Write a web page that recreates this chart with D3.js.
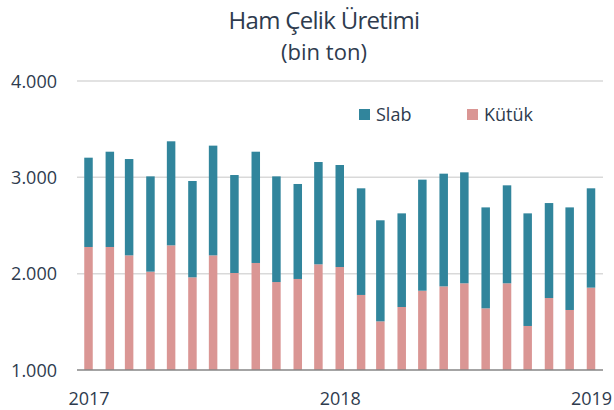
<!DOCTYPE html>
<html>
<head>
<meta charset="utf-8">
<script src="https://cdn.jsdelivr.net/npm/d3@7"></script>
<style>
  body { margin: 0; background: #fff; }
  text { font-family: "Open Sans", sans-serif; fill: #2e3b4e; }
</style>
</head>
<body>
<svg width="614" height="410"></svg>
<script>
// aylar (ocak 2017 - ocak 2019)
var months = ["2017-01", "2017-02", "2017-03", "2017-04", "2017-05", "2017-06", "2017-07", "2017-08", "2017-09",
  "2017-10", "2017-11", "2017-12", "2018-01", "2018-02", "2018-03", "2018-04", "2018-05", "2018-06", "2018-07",
  "2018-08", "2018-09", "2018-10", "2018-11", "2018-12", "2019-01"];

// bin ton
var kutuk = [2277, 2277, 2190, 2021, 2294, 1962, 2190, 2007, 2111, 1913, 1945, 2097, 2069,
  1779, 1505, 1654, 1823, 1868, 1900, 1640, 1900, 1457, 1747, 1623, 1855];
var slab = [927, 989, 1000, 989, 1080, 1000, 1139, 1017, 1155, 1097, 986, 1062, 1059,
  1107, 1049, 972, 1153, 1170, 1152, 1048, 1017, 1169, 986, 1065, 1031];

var yTicks = [1000, 2000, 3000, 4000];
var xTickYears = ["2017", "2018", "2019"];

var series = ["Kütük", "Slab"];
var colors = {"Kütük": "#da9694", "Slab": "#31859c"};

var svg = d3.select("svg");
var parseMonth = d3.timeParse("%Y-%m");

var rows = months.map(function(m, i) {
  return {date: parseMonth(m), "Kütük": kutuk[i], "Slab": slab[i]};
});

var x = d3.scaleTime()
    .domain([parseMonth("2017-01"), parseMonth("2019-01")])
    .range([88.5, 591]);

var y = d3.scaleLinear()
    .domain([1000, 4000])
    .range([370, 81])
    .clamp(true);

var barWidth = 8.5;
var plotLeft = 77, plotRight = 603;

/* grid */
svg.append("g")
  .selectAll("line")
  .data(yTicks.slice(1))
  .enter().append("line")
    .attr("x1", plotLeft)
    .attr("x2", plotRight)
    .attr("y1", function(d) { return y(d); })
    .attr("y2", function(d) { return y(d); })
    .attr("stroke", "#d9d9d9")
    .attr("stroke-width", 1.5);

/* y etiketleri */
var fmt = function(d) { return d3.format(",")(d).replace(/,/g, "."); };
var yAxis = svg.append("g")
    .attr("transform", "translate(57,0)")
    .call(d3.axisLeft(y).tickValues(yTicks).tickSize(0).tickPadding(0).tickFormat(fmt));
yAxis.select(".domain").remove();
yAxis.selectAll("text")
    .attr("font-family", "Open Sans, sans-serif")
    .attr("font-size", 18)
    .attr("fill", "#2e3b4e")
    .attr("dy", "0.35em");

/* cubuklar */
var stack = d3.stack().keys(series);

svg.append("g")
  .selectAll("g")
  .data(stack(rows))
  .enter().append("g")
    .attr("fill", function(d) { return colors[d.key]; })
  .selectAll("rect")
  .data(function(d) { return d; })
  .enter().append("rect")
    .attr("x", function(d) { return x(d.data.date) - barWidth / 2; })
    .attr("y", function(d) { return y(d[1]); })
    .attr("width", barWidth)
    .attr("height", function(d) { return y(d[0]) - y(d[1]); });

/* x ekseni */
var xAxis = svg.append("g")
    .attr("transform", "translate(0,370)")
    .call(d3.axisBottom(x)
      .tickValues(xTickYears.map(function(yr) { return parseMonth(yr + "-01"); }))
      .tickSize(0)
      .tickPadding(22)
      .tickFormat(d3.timeFormat("%Y")));
xAxis.select(".domain")
    .attr("d", "M" + plotLeft + ",0H" + plotRight)
    .attr("stroke", "#868686")
    .attr("stroke-width", 1.5);
xAxis.selectAll("text")
    .attr("font-family", "Open Sans, sans-serif")
    .attr("font-size", 18)
    .attr("fill", "#2e3b4e");

/* baslik */
svg.append("text")
    .attr("x", 324)
    .attr("y", 29)
    .attr("text-anchor", "middle")
    .attr("font-size", 24)
    .attr("letter-spacing", -0.7)
    .attr("fill", "#1b2a3c")
    .text("Ham Çelik Üretimi");

svg.append("text")
    .attr("x", 324)
    .attr("y", 60)
    .attr("text-anchor", "middle")
    .attr("font-size", 22)
    .attr("fill", "#2e3b4e")
    .text("(bin ton)");

/* lejant */
var legendItems = [{key: "Slab", x: 359}, {key: "Kütük", x: 467}];
var legend = svg.append("g")
  .selectAll("g")
  .data(legendItems)
  .enter().append("g")
    .attr("transform", function(d) { return "translate(" + d.x + ",109)"; });

legend.append("rect")
    .attr("width", 11)
    .attr("height", 11)
    .attr("fill", function(d) { return colors[d.key]; });

legend.append("text")
    .attr("x", 17)
    .attr("y", 12)
    .attr("font-size", 18)
    .text(function(d) { return d.key; });
</script>
</body>
</html>
